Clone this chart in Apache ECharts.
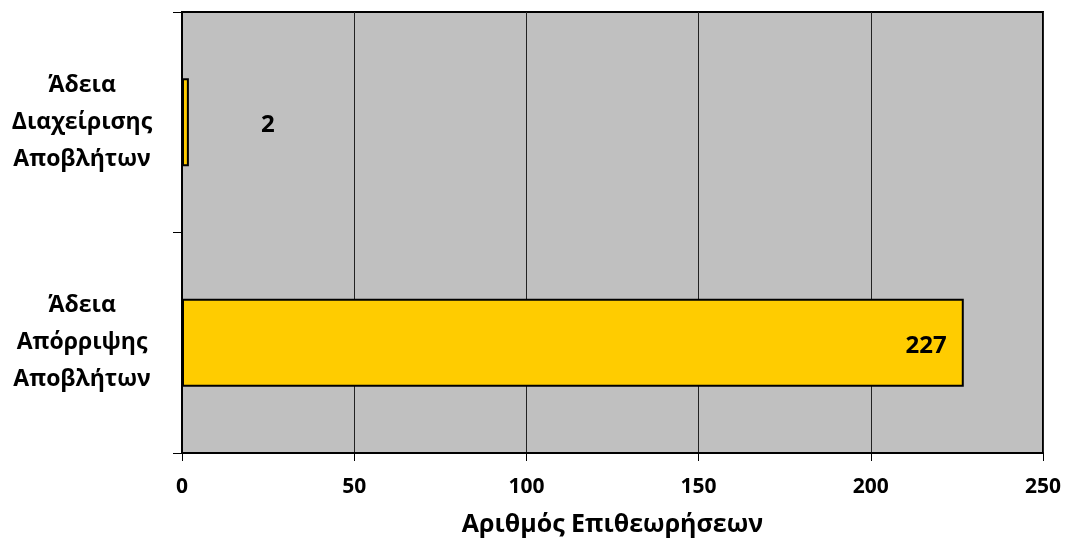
<!DOCTYPE html>
<html><head><meta charset="utf-8">
<script src="https://cdn.jsdelivr.net/npm/echarts@6/dist/echarts.min.js"></script>
<style>html,body{margin:0;padding:0;background:#fff}#c{width:1066px;height:540px}</style>
</head><body><div id="c"></div>
<script>
const categories = ['Άδεια\nΔιαχείρισης\nΑποβλήτων', 'Άδεια\nΑπόρριψης\nΑποβλήτων'];
const values = [2, 227];
const xTicks = [0, 50, 100, 150, 200, 250];
const xAxisName = 'Αριθμός Επιθεωρήσεων';

const FONT = '"Open Sans", sans-serif';
const chart = echarts.init(document.getElementById('c'));
chart.setOption({
  animation: false,
  grid: {left: 182, right: 23, top: 12, bottom: 87, outerBoundsMode: 'none', containLabel: false, show: true, backgroundColor: '#C0C0C0', borderColor: '#000', borderWidth: 2},
  xAxis: {
    type: 'value', min: xTicks[0], max: xTicks[xTicks.length-1], interval: 50,
    axisLine: {show: true, lineStyle: {color: '#000', width: 2}},
    axisTick: {show: true, length: 8, lineStyle: {color: '#000'}},
    splitLine: {show: true, lineStyle: {color: '#222', width: 1}},
    axisLabel: {margin: 24, color: '#000', fontFamily: FONT, fontWeight: 'bold', fontSize: 21},
    name: xAxisName, nameLocation: 'middle', nameGap: 59,
    nameTextStyle: {color: '#000', fontFamily: FONT, fontWeight: 'bold', fontSize: 25}
  },
  yAxis: {
    type: 'category', data: categories, inverse: true,
    axisLine: {show: true, lineStyle: {color: '#000', width: 2}},
    axisTick: {show: true, length: 9, lineStyle: {color: '#000'}},
    axisLabel: {margin: 100, align: 'center', color: '#000', fontFamily: FONT, fontWeight: 'bold', fontSize: 23, lineHeight: 37}
  },
  series: [{
    type: 'bar', barWidth: '40%',
    data: values.map((v, i) => ({
      value: v,
      label: i === 0 ? {position: 'right', distance: 72} : {position: 'insideRight', distance: 17}
    })),
    itemStyle: {color: '#FFCC00', borderColor: '#000', borderWidth: 2},
    label: {show: true, color: '#000', fontFamily: FONT, fontWeight: 'bold', fontSize: 24, offset: [0, 3]}
  }]
});
</script></body></html>
